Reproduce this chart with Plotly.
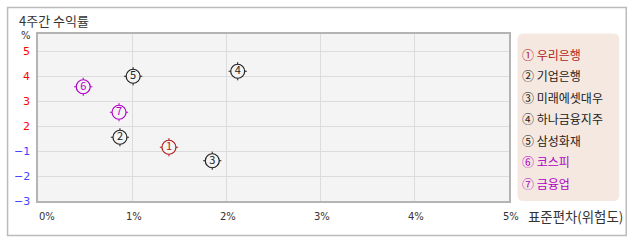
import plotly.graph_objects as go

# ---- data ----
names = ["우리은행", "기업은행", "미래에셋대우", "하나금융지주", "삼성화재", "코스피", "금융업"]
marks = ["①", "②", "③", "④", "⑤", "⑥", "⑦"]
digits = ["1", "2", "3", "4", "5", "6", "7"]
risk = [1.39, 0.87, 1.85, 2.12, 1.01, 0.48, 0.86]        # 표준편차 (%)
ret_pos = [1.15, 1.55, 0.61, 4.19, 3.99, 3.57, 2.55]     # position on the return axis
colors = ["#b01c1c", "#222222", "#222222", "#222222", "#222222", "#b000c8", "#b000c8"]

y_tickvals = [5, 4, 3, 2, 1, 0, -1]
y_ticktext = ["5", "4", "3", "2", "−1", "−2", "−3"]
y_tickcolors = ["#ff0000"] * 4 + ["#4444ff"] * 3
x_tickvals = [0, 1, 2, 3, 4, 5]
x_ticktext = ["0%", "1%", "2%", "3%", "4%", "5%"]

W, H = 638, 242
L, R, T, B = 37.5, 128.5, 34, 41
FONT = "Noto Sans CJK KR"

fig = go.Figure()
# small tick marks (cross behind)
fig.add_trace(go.Scatter(x=risk, y=ret_pos, mode="markers", hoverinfo="skip",
                         marker=dict(symbol="cross-thin-open", size=13, color=colors,
                                     line=dict(color=colors, width=1))))
# circles
fig.add_trace(go.Scatter(x=risk, y=ret_pos, mode="markers+text", text=digits,
                         textposition="middle center",
                         textfont=dict(family=FONT, size=11, color=colors),
                         marker=dict(symbol="circle", size=14, color="#f4f4f4",
                                     line=dict(color=colors, width=1.2))))

def px2paper_x(px):
    return (px - L) / (W - L - R)

def px2paper_y(py):
    return (H - B - py) / (H - T - B)

shapes = []
# outer frame
shapes.append(dict(type="rect", xref="paper", yref="paper",
                   x0=px2paper_x(7), x1=px2paper_x(627), y0=px2paper_y(235.5), y1=px2paper_y(7.5),
                   line=dict(color="#bbbbbb", width=1.5), fillcolor="rgba(0,0,0,0)", layer="below"))
# legend box with rounded corners
x0, x1, y0, y1, r = 518, 620, 33.5, 201, 6
def P(x, y):
    return f"{px2paper_x(x)},{px2paper_y(y)}"
path = (f"M {P(x0+r, y0)} L {P(x1-r, y0)} Q {P(x1, y0)} {P(x1, y0+r)} "
        f"L {P(x1, y1-r)} Q {P(x1, y1)} {P(x1-r, y1)} L {P(x0+r, y1)} "
        f"Q {P(x0, y1)} {P(x0, y1-r)} L {P(x0, y0+r)} Q {P(x0, y0)} {P(x0+r, y0)} Z")
shapes.append(dict(type="path", xref="paper", yref="paper", path=path,
                   fillcolor="#f5e8e1", line=dict(width=0), layer="below"))

annotations = []
annotations.append(dict(text="4주간 수익률", x=px2paper_x(16), y=px2paper_y(20), xref="paper", yref="paper",
                        xanchor="left", yanchor="middle", showarrow=False,
                        font=dict(family=FONT, size=13, color="#333333")))
annotations.append(dict(text="%", x=px2paper_x(25), y=px2paper_y(35), xref="paper", yref="paper",
                        xanchor="center", yanchor="middle", showarrow=False,
                        font=dict(family="DejaVu Sans", size=10, color="#333333")))
annotations.append(dict(text="표준편차(위험도)", x=px2paper_x(527), y=px2paper_y(216.5), xref="paper", yref="paper",
                        xanchor="left", yanchor="middle", showarrow=False,
                        font=dict(family=FONT, size=13.4, color="#333333")))
for i, (m, n, c) in enumerate(zip(marks, names, colors)):
    annotations.append(dict(text=f"{m} {n}", x=px2paper_x(521), y=px2paper_y(54.3 + i * 21.5),
                            xref="paper", yref="paper", xanchor="left", yanchor="middle",
                            showarrow=False, font=dict(family=FONT, size=12, color=c)))
for v, t, c in zip(y_tickvals, y_ticktext, y_tickcolors):
    annotations.append(dict(text=t, x=px2paper_x(31), y=v, xref="paper", yref="y",
                            xanchor="right", yanchor="middle", showarrow=False,
                            font=dict(family="DejaVu Sans", size=11, color=c)))
for v, t in zip(x_tickvals, x_ticktext):
    annotations.append(dict(text=t, x=v, y=px2paper_y(216.5), xref="x", yref="paper",
                            xanchor="left" if v == 0 else "center", yanchor="middle",
                            xshift=-1 if v == 0 else 1.5, showarrow=False,
                            font=dict(family="DejaVu Sans", size=10, color="#333333")))

fig.update_layout(
    width=W, height=H, margin=dict(l=L, r=R, t=T, b=B),
    paper_bgcolor="white", plot_bgcolor="#f4f4f4", showlegend=False,
    shapes=shapes, annotations=annotations,
    xaxis=dict(range=[0, 5], tickvals=x_tickvals, showticklabels=False,
               showgrid=True, gridcolor="#dcdcdc", zeroline=False,
               showline=True, linecolor="#b4b4b4", linewidth=1.5, mirror=True),
    yaxis=dict(range=[-1, 5.68], tickvals=y_tickvals, showticklabels=False,
               showgrid=True, gridcolor="#dcdcdc", zeroline=False,
               showline=True, linecolor="#b4b4b4", linewidth=1.5, mirror=True),
)

fig.write_html("out.html")
